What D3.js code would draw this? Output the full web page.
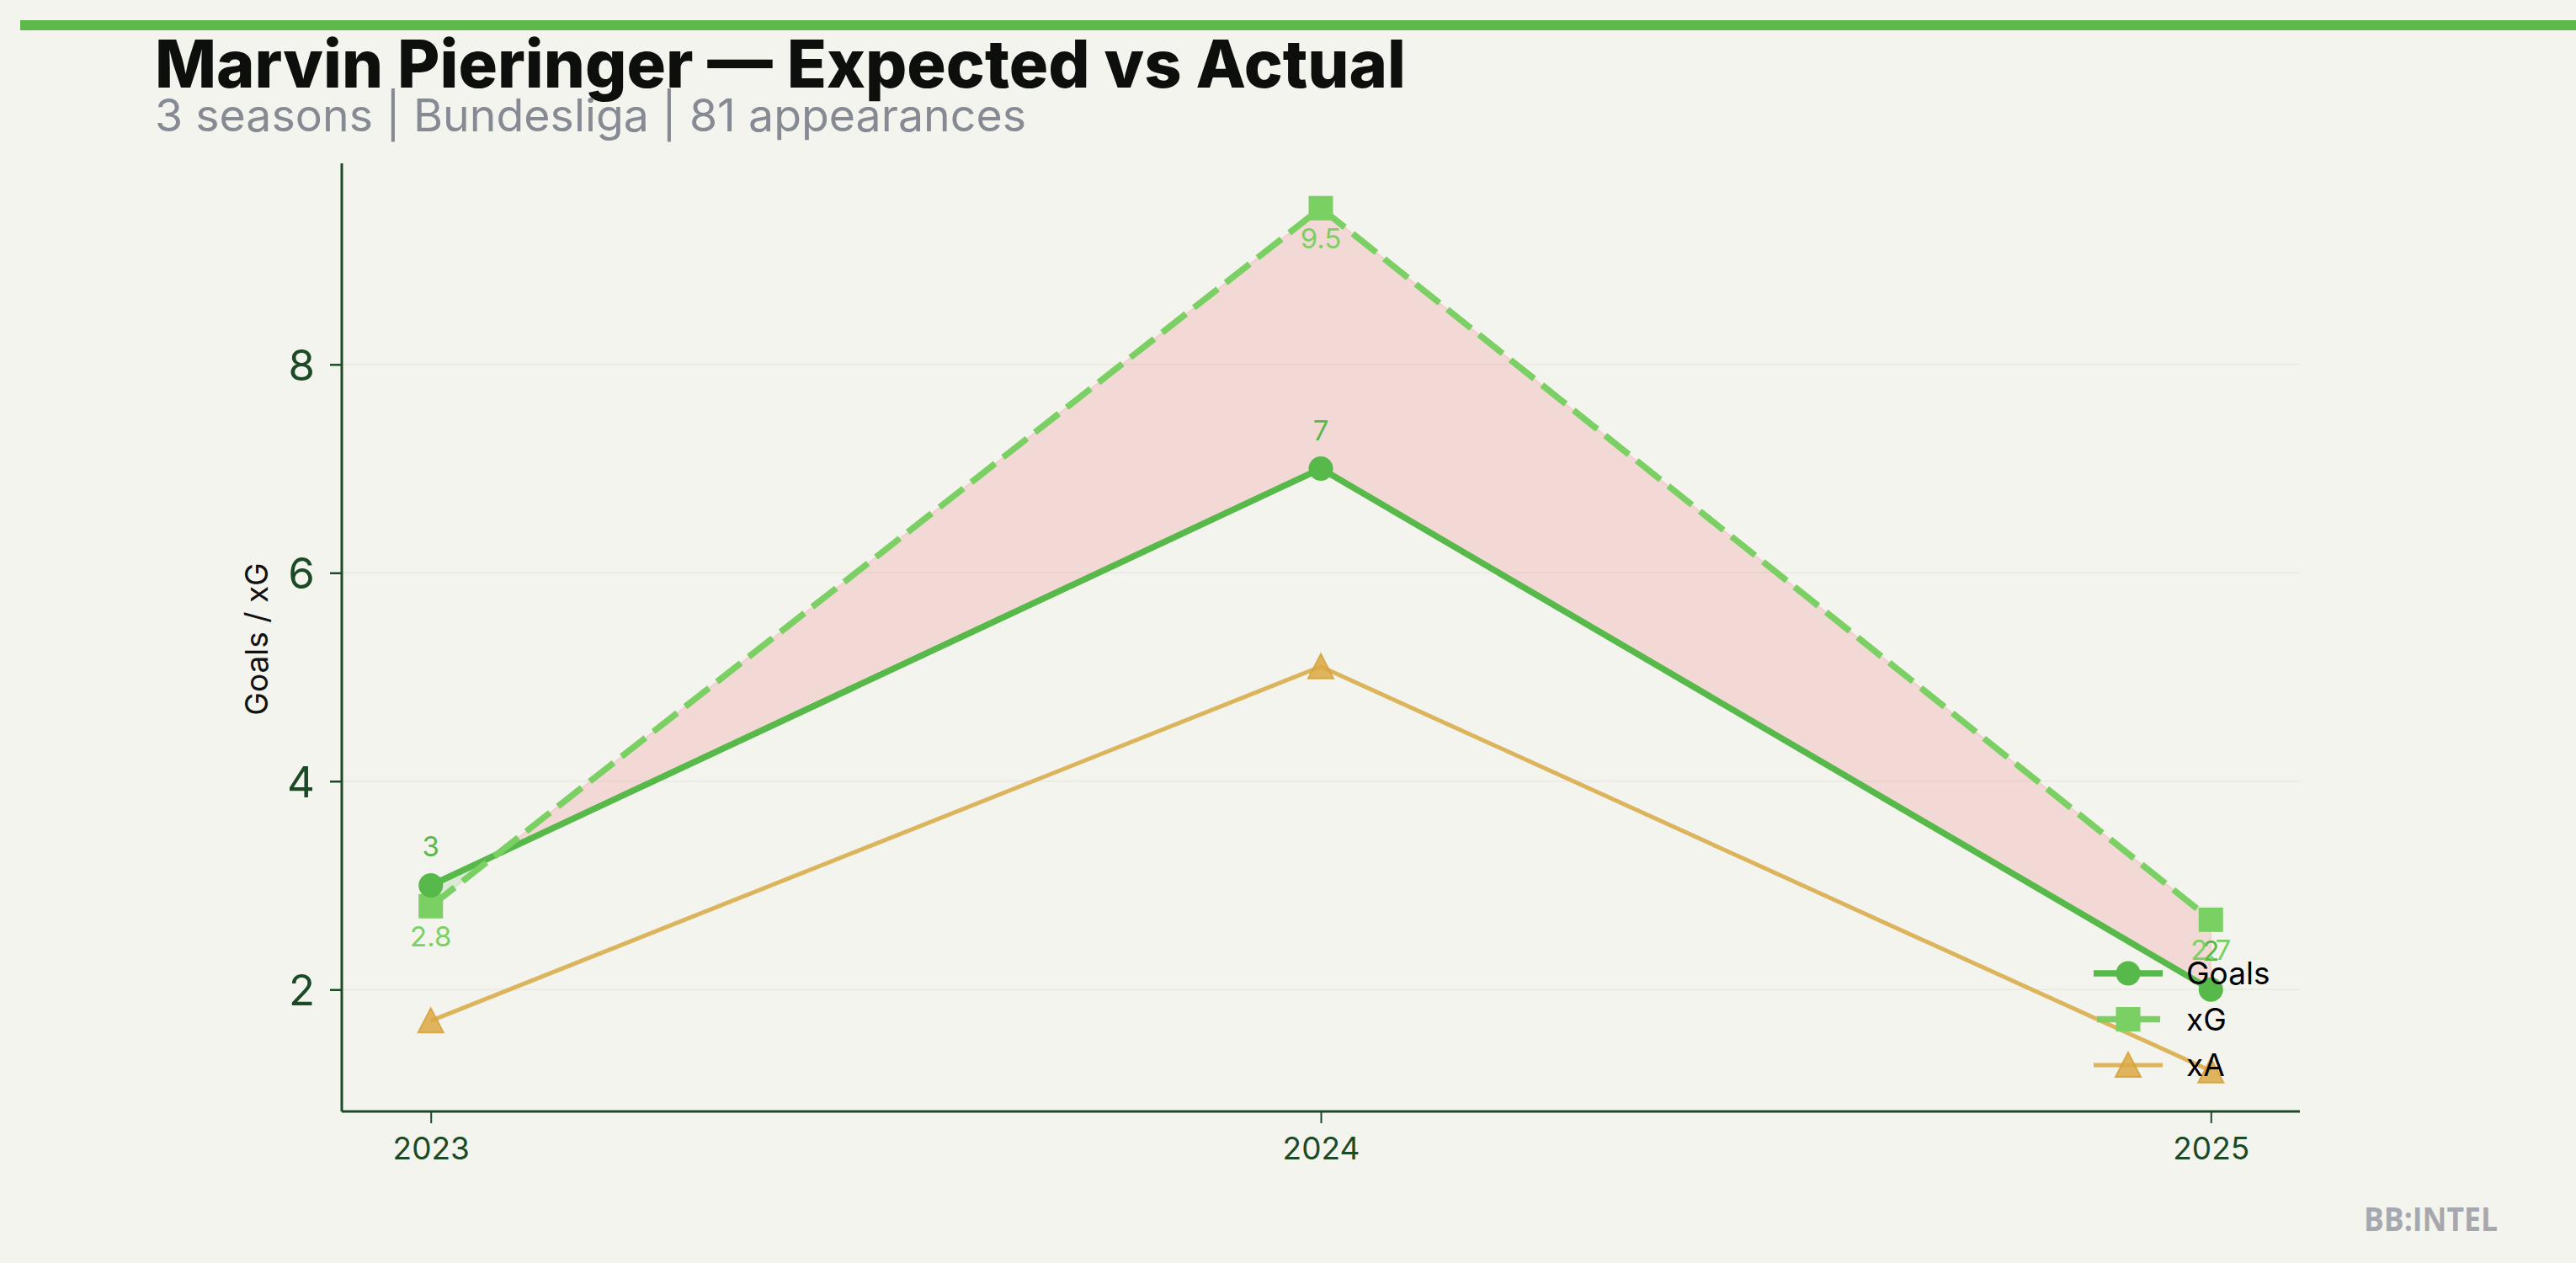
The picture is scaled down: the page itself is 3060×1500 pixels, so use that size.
<!DOCTYPE html>
<html>
<head>
<meta charset="utf-8">
<script src="https://cdn.jsdelivr.net/npm/d3@7"></script>
<style>
  html, body { margin: 0; padding: 0; background: #f4f4ef; }
  svg { display: block; }
</style>
</head>
<body>
<script>
// ---------- data ----------
const seasons = [2023, 2024, 2025];
const goals = [3, 7, 2];
const xg = [2.8, 9.5, 2.67];
const xa = [1.7, 5.1, 1.22];
const yTicks = [2, 4, 6, 8];
const seriesNames = ["Goals", "xG", "xA"];
const titleText = "Marvin Pieringer \u2014 Expected vs Actual";
const subtitleText = "3 seasons | Bundesliga | 81 appearances";
const yLabelText = "Goals / xG";
const brandText = "BB:INTEL";

// ---------- style ----------
const W = 3060, H = 1500;
const C = {
  bg: "#f4f4ef", goals: "#57b94a", xg: "#7bd064", xa: "#dcb45c",
  xaMarker: "#d9a944", axis: "#1d4a26", grid: "#e9e9e2",
  over: "#ef5350", under: "#57b94a", title: "#0d0f0d", sub: "#868a93", brand: "#a5a8ae"
};
const font = "Inter, 'Noto Sans', sans-serif";
const LW = 7.5, LWA = 5;

const svg = d3.select("body").append("svg").attr("width", W).attr("height", H);
svg.append("rect").attr("width", W).attr("height", H).attr("fill", C.bg);

// top bar
svg.append("rect").attr("x", 24).attr("y", 24).attr("width", W - 24).attr("height", 12).attr("fill", "#5cb94a");

// titles
svg.append("text").attr("x", 184).attr("y", 104)
  .attr("font-family", "Inter, sans-serif").attr("font-weight", 800).attr("font-size", 78)
  .attr("fill", C.title).attr("textLength", 1486).attr("lengthAdjust", "spacingAndGlyphs")
  .text(titleText);
svg.append("text").attr("x", 184).attr("y", 156)
  .attr("font-family", font).attr("font-size", 53).attr("fill", C.sub)
  .attr("textLength", 1035).attr("lengthAdjust", "spacingAndGlyphs")
  .text(subtitleText);

// ---------- scales ----------
const x = d3.scaleLinear().domain([2022.9, 2025.1]).range([406, 2732]);
const y = d3.scaleLinear().domain([0.83, 9.93]).range([1320, 194]);

// grid
svg.append("g").selectAll("line").data(yTicks).join("line")
  .attr("x1", x.range()[0]).attr("x2", x.range()[1])
  .attr("y1", d => y(d)).attr("y2", d => y(d))
  .attr("stroke", C.grid).attr("stroke-width", 1.5);

// ---------- fill between goals and xG ----------
const rows = seasons.map((s, i) => ({ s, g: goals[i], e: xg[i] }));
function segments(rows) {
  const pts = [];
  for (let i = 0; i < rows.length; i++) {
    pts.push(rows[i]);
    if (i < rows.length - 1) {
      const a = rows[i], b = rows[i + 1];
      const da = a.e - a.g, db = b.e - b.g;
      if (da * db < 0) {
        const t = da / (da - db);
        pts.push({ s: a.s + t * (b.s - a.s), g: a.g + t * (b.g - a.g), e: a.e + t * (b.e - a.e), cross: true });
      }
    }
  }
  const segs = [];
  let cur = null;
  for (let i = 0; i < pts.length; i++) {
    const p = pts[i];
    const sign = p.cross ? null : (p.e >= p.g ? 1 : -1);
    if (cur === null) { cur = { sign, pts: [p] }; continue; }
    cur.pts.push(p);
    if (cur.sign === null) cur.sign = sign;
    if (p.cross) { segs.push(cur); cur = { sign: null, pts: [p] }; }
  }
  if (cur && cur.pts.length > 1) segs.push(cur);
  return segs;
}
const area = d3.area().x(d => x(d.s)).y0(d => y(d.g)).y1(d => y(d.e));
const fillG = svg.append("g");
segments(rows).forEach(seg => {
  const col = seg.sign > 0 ? C.over : C.under;
  fillG.append("path").attr("d", area(seg.pts))
    .attr("fill", col).attr("fill-opacity", 0.16)
    .attr("stroke", col).attr("stroke-opacity", 0.12).attr("stroke-width", 2);
});

// ---------- lines ----------
const line = d3.line().x(d => x(d[0])).y(d => y(d[1]));
const xaPts = seasons.map((s, i) => [s, xa[i]]);
const gPts = seasons.map((s, i) => [s, goals[i]]);
const ePts = seasons.map((s, i) => [s, xg[i]]);

svg.append("path").attr("d", line(xaPts)).attr("fill", "none")
  .attr("stroke", C.xa).attr("stroke-width", LWA);
svg.append("path").attr("d", line(gPts)).attr("fill", "none")
  .attr("stroke", C.goals).attr("stroke-width", LW).attr("stroke-linejoin", "round");
svg.append("path").attr("d", line(ePts)).attr("fill", "none")
  .attr("stroke", C.xg).attr("stroke-width", LW).attr("stroke-dasharray", "36 12");

// markers
function drawTri(g, cx, cy) {
  g.append("path").attr("d", "M0,-15L15,14L-15,14Z")
    .attr("transform", `translate(${cx},${cy})`)
    .attr("fill", C.xaMarker).attr("fill-opacity", 0.85)
    .attr("stroke", "#d6a235").attr("stroke-opacity", 0.85).attr("stroke-width", 2);
}
const mk = svg.append("g");
xaPts.forEach(d => drawTri(mk, x(d[0]), y(d[1])));
ePts.forEach(d => mk.append("rect").attr("x", x(d[0]) - 14.5).attr("y", y(d[1]) - 14.5)
  .attr("width", 29).attr("height", 29).attr("fill", C.xg));
gPts.forEach(d => mk.append("circle").attr("cx", x(d[0])).attr("cy", y(d[1])).attr("r", 14.5).attr("fill", C.goals));

// value labels
const fmtG = d3.format("d"), fmtE = d3.format(".1f");
svg.append("g").selectAll("text").data(gPts).join("text")
  .attr("x", d => x(d[0])).attr("y", d => y(d[1]) - 34)
  .attr("text-anchor", "middle").attr("font-family", font).attr("font-size", 33)
  .attr("fill", C.goals).text(d => fmtG(d[1]));
svg.append("g").selectAll("text").data(ePts).join("text")
  .attr("x", d => x(d[0])).attr("y", d => y(d[1]) + 48)
  .attr("text-anchor", "middle").attr("font-family", font).attr("font-size", 33)
  .attr("fill", C.xg).text(d => fmtE(d[1]));

// ---------- axes ----------
const xAxis = d3.axisBottom(x).tickValues(seasons).tickFormat(d3.format("d")).tickSize(14).tickPadding(0);
const gx = svg.append("g").attr("transform", `translate(0,${y.range()[0]})`).call(xAxis);
gx.select(".domain").attr("stroke", C.axis).attr("stroke-width", 3.2).attr("d", `M${x.range()[0]},0H${x.range()[1]}`);
gx.selectAll(".tick line").attr("stroke", C.axis).attr("stroke-width", 2);
gx.selectAll(".tick text").attr("font-family", font).attr("font-size", 37).attr("fill", C.axis)
  .attr("dy", null).attr("y", 57);

const yAxis = d3.axisLeft(y).tickValues(yTicks).tickFormat(d3.format("d")).tickSize(14).tickPadding(18);
const gy = svg.append("g").attr("transform", `translate(${x.range()[0]},0)`).call(yAxis);
gy.select(".domain").attr("stroke", C.axis).attr("stroke-width", 3).attr("d", `M0,${y.range()[0]}V${y.range()[1]}`);
gy.selectAll(".tick line").attr("stroke", C.axis).attr("stroke-width", 2.5);
gy.selectAll(".tick text").attr("font-family", font).attr("font-size", 51).attr("fill", C.axis)
  .attr("dy", "0.36em");

svg.append("text").attr("transform", `translate(318,759) rotate(-90)`)
  .attr("text-anchor", "middle").attr("font-family", font).attr("font-size", 37)
  .attr("fill", "#111").text(yLabelText);

// ---------- legend ----------
const leg = svg.append("g");
const legRows = [1156, 1210.5, 1265];
const lx0 = 2487, lx1 = 2569, lmx = 2528, ltx = 2597;
leg.append("line").attr("x1", lx0).attr("x2", lx1).attr("y1", legRows[0]).attr("y2", legRows[0])
  .attr("stroke", C.goals).attr("stroke-width", LW);
leg.append("circle").attr("cx", lmx).attr("cy", legRows[0]).attr("r", 14.5).attr("fill", C.goals);
leg.append("line").attr("x1", 2491).attr("x2", 2566).attr("y1", legRows[1]).attr("y2", legRows[1])
  .attr("stroke", C.xg).attr("stroke-width", LW).attr("stroke-dasharray", "33 9 33");
leg.append("rect").attr("x", lmx - 14.5).attr("y", legRows[1] - 14.5).attr("width", 29).attr("height", 29).attr("fill", C.xg);
leg.append("line").attr("x1", lx0).attr("x2", lx1).attr("y1", legRows[2]).attr("y2", legRows[2])
  .attr("stroke", C.xa).attr("stroke-width", LWA);
drawTri(leg, lmx, legRows[2]);
leg.selectAll("text").data(seriesNames).join("text")
  .attr("x", ltx).attr("y", (d, i) => legRows[i] + 13)
  .attr("font-family", font).attr("font-size", 37).attr("fill", "#000").text(d => d);

// brand
svg.append("text").attr("x", 2808).attr("y", 1462)
  .attr("font-family", "'Open Sans', sans-serif").attr("font-weight", 700).attr("font-size", 40)
  .attr("fill", C.brand).attr("textLength", 159).attr("lengthAdjust", "spacingAndGlyphs").text(brandText);
</script>
</body>
</html>
